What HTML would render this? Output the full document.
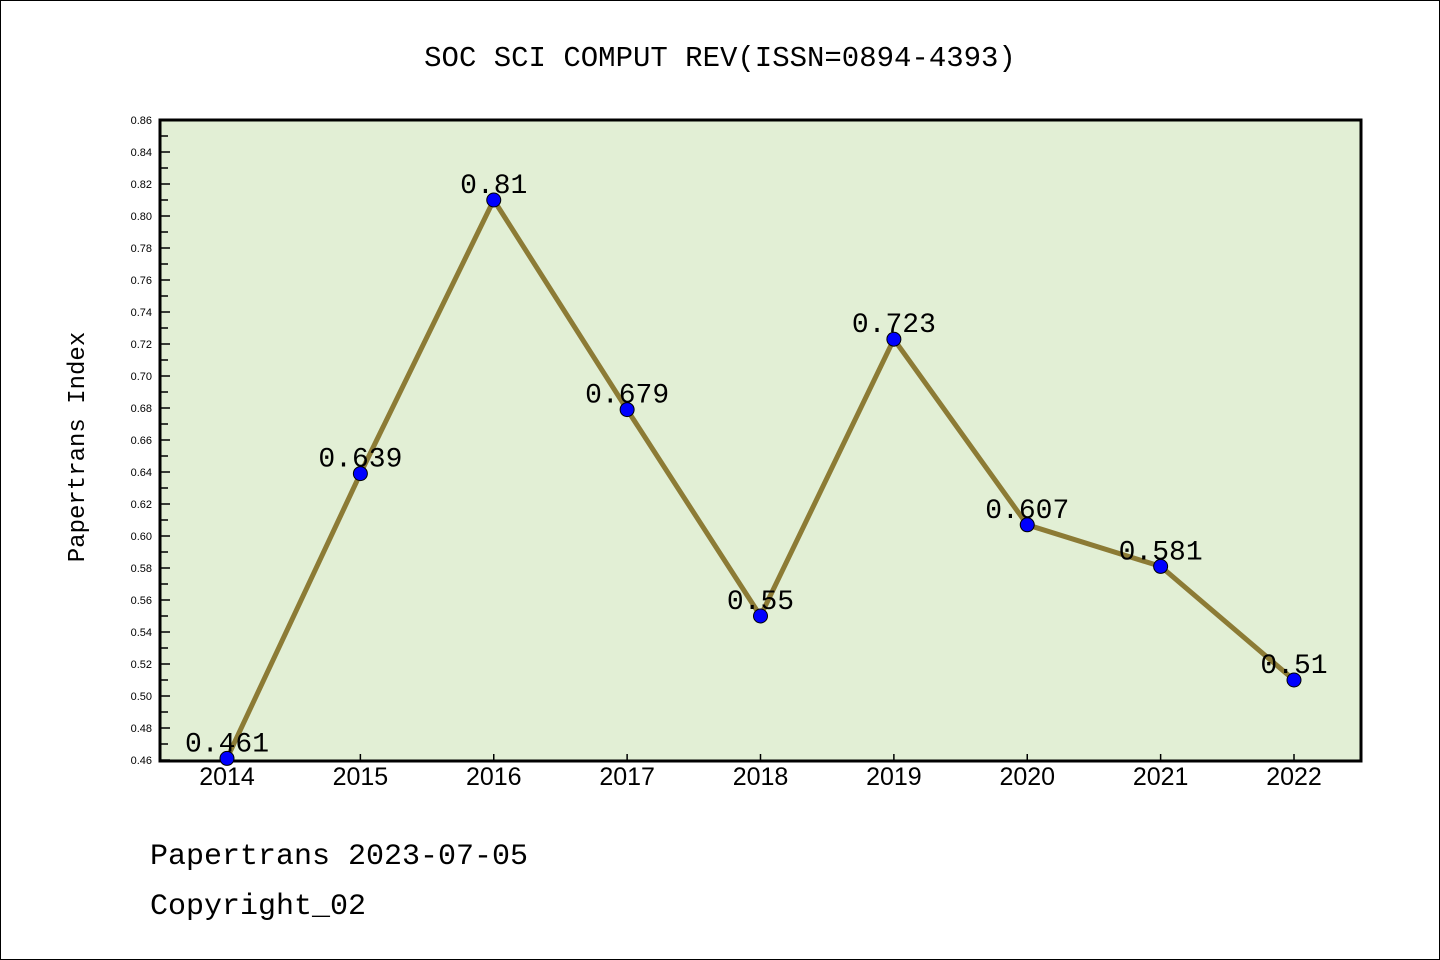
<!DOCTYPE html>
<html><head><meta charset="utf-8"><style>
body{margin:0;background:#fff}
svg{display:block;font-family:"Liberation Sans","DejaVu Sans",sans-serif}
</style></head><body>
<svg id="chart" width="1440" height="960" xmlns="http://www.w3.org/2000/svg">
<rect x="0.5" y="0.5" width="1439" height="959" fill="#fff" stroke="#000"/>
<text x="720" y="66" text-anchor="middle" font-size="29" font-family="Liberation Mono, monospace">SOC SCI COMPUT REV(ISSN=0894-4393)</text>
<rect x="160" y="120" width="1201" height="641" fill="#e2efd5" stroke="#000" stroke-width="3"/>
<text transform="translate(84,447) rotate(-90)" text-anchor="middle" font-size="24" font-family="Liberation Mono, monospace">Papertrans Index</text>
<text x="150" y="864" font-size="30" font-family="Liberation Mono, monospace">Papertrans 2023-07-05</text>
<text x="150" y="914" font-size="30" font-family="Liberation Mono, monospace">Copyright_02</text>
<g id="axes"></g><g id="series"></g>
</svg>
<script>
const years=["2014","2015","2016","2017","2018","2019","2020","2021","2022"];
const values=[0.461,0.639,0.81,0.679,0.55,0.723,0.607,0.581,0.51];
const labels=["0.461","0.639","0.81","0.679","0.55","0.723","0.607","0.581","0.51"];
const yMin=0.46,yMax=0.86;
const NS="http://www.w3.org/2000/svg";
const X=i=>227+i*(1294-227)/(years.length-1);
const Y=v=>760-(v-yMin)/(yMax-yMin)*640;
function mk(t,a,p){const e=document.createElementNS(NS,t);for(const k in a)e.setAttribute(k,a[k]);p.appendChild(e);return e;}
const ax=document.getElementById('axes'),se=document.getElementById('series');
for(let k=0;k<=40;k++){const v=yMin+k*0.01,y=Y(v),maj=k%2==0;
 const t=mk('line',{x1:160,x2:maj?170:168,y1:y,y2:y,stroke:'#000','stroke-width':1.5},ax);
 
 if(maj){const l=mk('text',{x:152,y:y+4,'text-anchor':'end','font-size':11},ax);l.textContent=v.toFixed(2);
 }}
years.forEach((yr,i)=>{const x=X(i);
 const t=mk('line',{x1:x,x2:x,y1:760,y2:754,stroke:'#000','stroke-width':1.5},ax);
 
 const l=mk('text',{x:x,y:785,'text-anchor':'middle','font-size':25},ax);l.textContent=yr;
 });
const ln=mk('polyline',{points:values.map((v,i)=>X(i)+','+Y(v)).join(' '),fill:'none',stroke:'#8c7b35','stroke-width':5},se);

values.forEach((v,i)=>{const c=mk('circle',{cx:X(i),cy:Y(v),r:7,fill:'#0000ff',stroke:'#000','stroke-width':1},se);
 
 const l=mk('text',{x:X(i),y:Y(v)-7,'text-anchor':'middle','font-size':28,'font-family':'Liberation Mono, monospace'},se);l.textContent=labels[i];
 });
</script>
</body></html>
